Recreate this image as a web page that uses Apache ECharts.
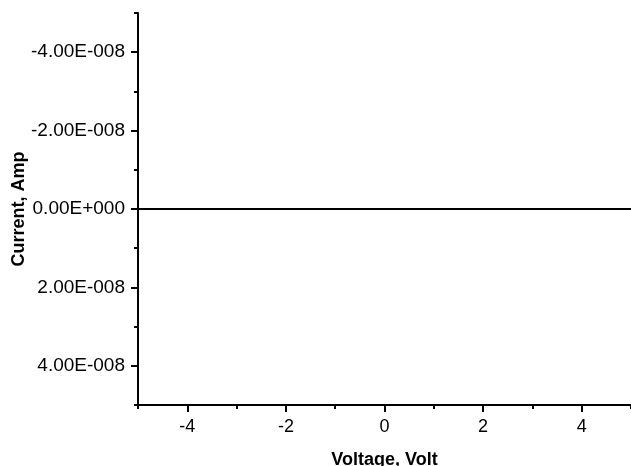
<!DOCTYPE html>
<html>
<head>
<meta charset="utf-8">
<script src="https://cdn.jsdelivr.net/npm/echarts@6/dist/echarts.min.js"></script>
<style>html,body{margin:0;padding:0;background:#fff}#c{width:631px;height:466px}</style>
</head>
<body>
<div id="c"></div>
<script>
// Data
var voltage = [-5, -4, -3, -2, -1, 0, 1, 2, 3, 4, 5];
var current = [0, 0, 0, 0, 0, 0, 0, 0, 0, 0, 0];
var xMajorTicks = [-4, -2, 0, 2, 4];
var xMinorTicks = [-5, -3, -1, 1, 3, 5];
var yMajorTicks = [-4e-8, -2e-8, 0, 2e-8, 4e-8];
var yMinorTicks = [-5e-8, -3e-8, -1e-8, 1e-8, 3e-8, 5e-8];
var yTickLabels = ['-4.00E-008', '-2.00E-008', '0.00E+000', '2.00E-008', '4.00E-008'];

function yLabel(v) {
  for (var i = 0; i < yMajorTicks.length; i++) {
    if (Math.abs(yMajorTicks[i] - v) < 1e-12) return yTickLabels[i];
  }
  return '';
}

var font = 'Liberation Sans, Arial, sans-serif';
var lineStyle = {color: '#000', width: 2};

function tickAxis(base, ticks, len) {
  return {
    type: 'value', min: base.min, max: base.max, inverse: !!base.inverse, position: base.position,
    axisLine: {show: false, onZero: false},
    axisTick: {show: true, inside: false, length: len, lineStyle: lineStyle, customValues: ticks},
    axisLabel: {show: false},
    splitLine: {show: false}
  };
}

var chart = echarts.init(document.getElementById('c'), null, {renderer: 'canvas'});
chart.setOption({
  animation: false,
  grid: {left: 138, top: 13, right: 0, bottom: 61, containLabel: false, outerBoundsMode: 'none'},
  xAxis: [{
    type: 'value', min: -5, max: 5, position: 'bottom',
    name: 'Voltage, Volt', nameLocation: 'middle', nameGap: 46, nameMoveOverlap: false,
    nameTextStyle: {fontFamily: font, fontWeight: 'bold', fontSize: 18, color: '#000'},
    axisLine: {show: true, onZero: false, lineStyle: lineStyle},
    axisTick: {show: false},
    axisLabel: {show: true, customValues: xMajorTicks, margin: 13, fontFamily: font, fontSize: 18, color: '#000'},
    splitLine: {show: false}
  },
    tickAxis({min: -5, max: 5, position: 'bottom'}, xMajorTicks, 7),
    tickAxis({min: -5, max: 5, position: 'bottom'}, xMinorTicks, 4)
  ],
  yAxis: [{
    type: 'value', min: -5e-8, max: 5e-8, inverse: true, position: 'left',
    name: 'Current, Amp', nameLocation: 'middle', nameGap: 110, nameMoveOverlap: false,
    nameTextStyle: {fontFamily: font, fontWeight: 'bold', fontSize: 18, color: '#000'},
    axisLine: {show: true, onZero: false, lineStyle: lineStyle},
    axisTick: {show: false},
    axisLabel: {show: true, customValues: yMajorTicks, margin: 13, fontFamily: font, fontSize: 19, color: '#000', formatter: yLabel},
    splitLine: {show: false}
  },
    tickAxis({min: -5e-8, max: 5e-8, inverse: true, position: 'left'}, yMajorTicks, 7),
    tickAxis({min: -5e-8, max: 5e-8, inverse: true, position: 'left'}, yMinorTicks, 4)
  ],
  series: [{
    type: 'line',
    xAxisIndex: 0, yAxisIndex: 0,
    data: voltage.map(function (v, i) { return [v, current[i]]; }),
    showSymbol: false, symbol: 'none',
    lineStyle: {color: '#000', width: 2},
    clip: false
  }]
});
</script>
</body>
</html>
